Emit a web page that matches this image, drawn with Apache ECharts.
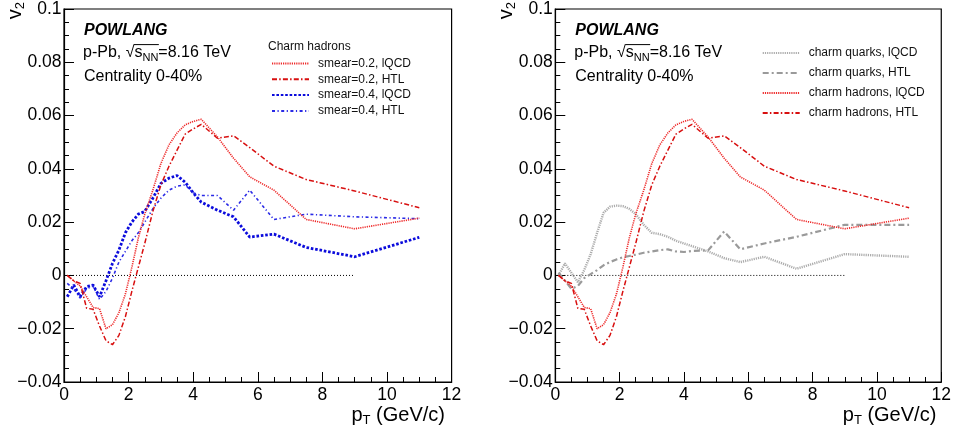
<!DOCTYPE html>
<html><head><meta charset="utf-8">
<script src="https://cdn.jsdelivr.net/npm/echarts@6/dist/echarts.min.js"></script>
<style>html,body{margin:0;padding:0;background:#fff}#c{width:954px;height:437px}</style>
</head><body><div id="c"></div>
<script>
// ---------- data ----------
const pT = [0.1,0.3,0.5,0.7,0.9,1.1,1.3,1.5,1.7,1.9,2.1,2.3,2.5,2.75,3.0,3.25,3.5,3.75,4.0,4.25,4.75,5.25,5.75,6.5,7.5,9,11];
// charm hadrons, smear=0.2
const hadLQCD02 = [0.0,-0.002,-0.004,-0.008,-0.012,-0.0125,-0.020,-0.0185,-0.014,-0.007,0.003,0.014,0.023,0.032,0.042,0.049,0.0535,0.0565,0.0578,0.0586,0.052,0.044,0.037,0.032,0.021,0.0175,0.0215];
const hadHTL02  = [0.0,-0.002,-0.003,-0.0123,-0.0127,-0.019,-0.0245,-0.026,-0.0225,-0.0155,-0.006,0.003,0.012,0.024,0.034,0.041,0.047,0.053,0.055,0.0567,0.0515,0.0524,0.048,0.041,0.036,0.0317,0.0254];
// charm hadrons, smear=0.4
const hadLQCD04 = [-0.008,-0.0036,-0.008,-0.0042,-0.0036,-0.008,-0.002,0.0045,0.0095,0.016,0.020,0.023,0.024,0.029,0.0345,0.0365,0.0375,0.035,0.031,0.0275,0.0245,0.022,0.0144,0.0155,0.0105,0.007,0.0143];
const hadHTL04  = [-0.003,-0.005,-0.0085,-0.005,-0.004,-0.009,-0.006,-0.001,0.005,0.009,0.013,0.016,0.020,0.025,0.029,0.032,0.0335,0.034,0.031,0.030,0.030,0.0245,0.032,0.021,0.023,0.022,0.0213];
// charm quarks
const quarkLQCD = [0.000,0.0045,0.001,-0.0025,0.002,0.008,0.016,0.0235,0.0258,0.0262,0.026,0.025,0.023,0.019,0.016,0.0155,0.0145,0.013,0.012,0.011,0.009,0.0065,0.005,0.007,0.0025,0.008,0.007];
const quarkHTL  = [0.001,-0.002,-0.005,-0.004,-0.001,0.0005,0.002,0.0038,0.005,0.006,0.0068,0.0073,0.0078,0.0085,0.009,0.0095,0.0098,0.009,0.0088,0.0092,0.0094,0.0165,0.0098,0.012,0.0145,0.019,0.019];
const zeroLine = [[0,0],[9,0]];
const xTicks = {min:0, max:12, step:2};
const yTicks = {min:-0.04, max:0.1, step:0.02};
const leftNames  = ['smear=0.2, lQCD','smear=0.2, HTL','smear=0.4, lQCD','smear=0.4, HTL'];
const rightNames = ['charm quarks, lQCD','charm quarks, HTL','charm hadrons, lQCD','charm hadrons, HTL'];

// ---------- chart ----------
const FONT = '"Liberation Sans", Arial, Helvetica, sans-serif';
const chart = echarts.init(document.getElementById('c'), null, {renderer:'canvas'});
const pairs = arr => pT.map((x,i)=>[x, arr[i]]);
function measure(text, size, weight){ const ctx=document.createElement('canvas').getContext('2d'); ctx.font=(weight||'normal')+' '+size+'px '+FONT; return ctx.measureText(text).width; }

const GX = [64, 555.3], GW = 387.6, GT = 7.3, GH = 374.7;

const styles = {
  redDot:  {color:'#ee2a2a', width:1.6, type:[1.2,1]},
  redDD:   {color:'#d80f0f', width:1.5, type:[5,2.2,1.5,2.2]},
  blueDot: {color:'#0b0bdc', width:2.8, type:[2.6,1.8]},
  blueDD:  {color:'#2a2ae6', width:1.6, type:[3,2.5,1.2,2.5]},
  grayDot: {color:'#acacac', width:2.4, type:[1.2,1]},
  grayDD:  {color:'#9a9a9a', width:2.2, type:[6,3,2,3]},
  zero:    {color:'#000', width:1, type:[1,2]}
};
function line(name, data, st, gi, z){
  return {name, type:'line', xAxisIndex:gi, yAxisIndex:gi, data, symbol:'none', showSymbol:false,
    lineStyle:Object.assign({}, st), itemStyle:{color:st.color}, z:z||2, animation:false, silent:true};
}
function xAxis(gi){
  return {gridIndex:gi, type:'value', min:xTicks.min, max:xTicks.max, interval:xTicks.step,
    axisLine:{show:true, onZero:false, lineStyle:{color:'#000', width:1.2}},
    axisTick:{show:true, inside:true, length:10, lineStyle:{color:'#000', width:1}},
    minorTick:{show:true, splitNumber:4, length:5, lineStyle:{color:'#000', width:1}},
    splitLine:{show:false}, minorSplitLine:{show:false},
    axisLabel:{color:'#000', fontSize:17.5, fontFamily:FONT, margin:4}};
}
function yAxis(gi){
  return {gridIndex:gi, type:'value', min:yTicks.min, max:yTicks.max, interval:yTicks.step,
    axisLine:{show:true, onZero:false, lineStyle:{color:'#000', width:1.2}},
    axisTick:{show:true, inside:true, length:10, lineStyle:{color:'#000', width:1}},
    minorTick:{show:true, splitNumber:4, length:5, lineStyle:{color:'#000', width:1}},
    splitLine:{show:false}, minorSplitLine:{show:false},
    axisLabel:{color:'#000', fontSize:17.5, fontFamily:FONT, margin:2.5,
      formatter:v=>{const r=Math.round(v*100)/100; return String(r).replace('-','\u2212');}}};
}
function legend(names, left, top, gap){
  return {data:names, orient:'vertical', left, top, padding:0, itemWidth:37, itemHeight:12, itemGap:gap,
    selectedMode:false, itemStyle:{color:'transparent', borderColor:'transparent', borderWidth:0, opacity:0},
    textStyle:{fontSize:12, fontFamily:FONT, color:'#111', lineHeight:12, padding:[0,0,0,4]}};
}
const sub = {fontSize:11, lineHeight:8, verticalAlign:'bottom', fontFamily:FONT, fill:'#000'};
function panelTexts(dx){
  const x0 = 83 + dx;
  const w1 = measure('p-Pb, \u221A',16), ws = measure('s',16), wn = measure('NN',11);
  return [
    {type:'text', x:84+dx, y:31, style:{text:'POWLANG', fontFamily:FONT, fontSize:16, fontWeight:'bold', fontStyle:'italic', fill:'#000', verticalAlign:'middle'}},
    {type:'text', x:x0, y:53, style:{text:'{n|p-Pb, \u221As}{s|NN}{n|=8.16 TeV}', verticalAlign:'middle',
      rich:{n:{fontSize:16, lineHeight:20, fontFamily:FONT, fill:'#000'}, s:sub}}},
    {type:'line', shape:{x1:x0+w1-0.5, y1:44.6, x2:x0+w1+ws+wn+0.5, y2:44.6}, style:{stroke:'#000', lineWidth:1}},
    {type:'text', x:84+dx, y:77, style:{text:'Centrality 0-40%', fontFamily:FONT, fontSize:16, fill:'#000', verticalAlign:'middle'}},
    {type:'text', x:15+dx, y:2, rotation:Math.PI/2, style:{text:'{n|v}{t|2}', align:'right', verticalAlign:'middle',
      rich:{n:{fontSize:20, lineHeight:24, fontFamily:FONT, fill:'#000'}, t:{fontSize:13, lineHeight:9, verticalAlign:'bottom', fontFamily:FONT, fill:'#000'}}}},
    {type:'text', x:445+dx, y:415, style:{text:'{n|p}{t|T}{n| (GeV/c)}', align:'right', verticalAlign:'middle',
      rich:{n:{fontSize:20, lineHeight:24, fontFamily:FONT, fill:'#000'}, t:{fontSize:13, lineHeight:9, verticalAlign:'bottom', fontFamily:FONT, fill:'#000'}}}}
  ];
}

const option = {
  animation:false,
  backgroundColor:'#fff',
  grid:[
    {left:GX[0], top:GT, width:GW, height:GH, show:true, borderColor:'#000', borderWidth:1.2, backgroundColor:'transparent'},
    {left:GX[1], top:GT, width:GW, height:GH, show:true, borderColor:'#000', borderWidth:1.2, backgroundColor:'transparent'}
  ],
  xAxis:[xAxis(0), xAxis(1)],
  yAxis:[yAxis(0), yAxis(1)],
  legend:[legend(leftNames, 271, 57.5, 3.8), legend(rightNames, 761.7, 47, 8)],
  graphic:[...panelTexts(0), ...panelTexts(491.3),
    {type:'text', x:268, y:47, style:{text:'Charm hadrons', fontFamily:FONT, fontSize:12, fill:'#111', verticalAlign:'middle'}}],
  series:[
    line('zero-left', zeroLine, styles.zero, 0, 1),
    line(leftNames[2], pairs(hadLQCD04), styles.blueDot, 0, 2),
    line(leftNames[3], pairs(hadHTL04), styles.blueDD, 0, 2),
    line(leftNames[0], pairs(hadLQCD02), styles.redDot, 0, 3),
    line(leftNames[1], pairs(hadHTL02), styles.redDD, 0, 3),
    line('zero-right', zeroLine, styles.zero, 1, 1),
    line(rightNames[0], pairs(quarkLQCD), styles.grayDot, 1, 2),
    line(rightNames[1], pairs(quarkHTL), styles.grayDD, 1, 2),
    line(rightNames[2], pairs(hadLQCD02), styles.redDot, 1, 3),
    line(rightNames[3], pairs(hadHTL02), styles.redDD, 1, 3)
  ]
};
chart.setOption(option);
</script></body></html>
